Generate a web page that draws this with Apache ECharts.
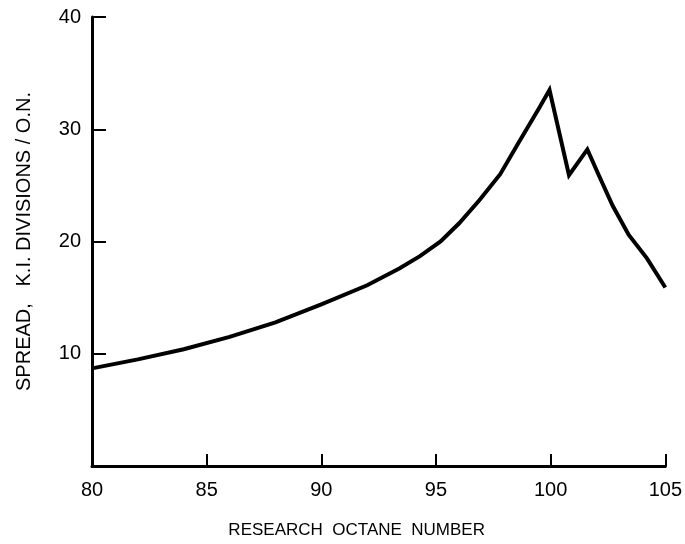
<!DOCTYPE html>
<html>
<head>
<meta charset="utf-8">
<script src="https://cdn.jsdelivr.net/npm/echarts@6/dist/echarts.min.js"></script>
<style>html,body{margin:0;padding:0;background:#fff;}#c{width:685px;height:544px;}</style>
</head>
<body>
<div id="c"></div>
<script>
const octane = [80, 82, 84, 86, 88, 90, 92, 93.4, 94.3, 95.2, 96.0, 96.9, 97.8, 98.6, 99.5, 99.95, 100.8, 101.6, 102.1, 102.7, 103.4, 104.2, 105];
const spread = [8.7, 9.5, 10.4, 11.5, 12.8, 14.4, 16.1, 17.6, 18.7, 20.0, 21.6, 23.7, 26.0, 28.8, 31.9, 33.5, 25.9, 28.2, 25.9, 23.2, 20.6, 18.5, 15.9];
const xTicks = [80, 85, 90, 95, 100, 105];
const yTicks = [10, 20, 30, 40];
const xName = 'RESEARCH  OCTANE  NUMBER';
const yName = 'SPREAD,   K.I. DIVISIONS / O.N.';

const chart = echarts.init(document.getElementById('c'));
const font = 'Liberation Sans, Arial, sans-serif';
chart.setOption({
  animation: false,
  backgroundColor: '#fff',
  grid: { left: 92, right: 19, top: 17, bottom: 78, containLabel: false },
  xAxis: {
    type: 'value', min: xTicks[0], max: xTicks[xTicks.length - 1], interval: 5,
    name: xName, nameLocation: 'middle', nameGap: 56,
    nameTextStyle: { fontFamily: font, fontSize: 17, color: '#000', padding: [0, 44, 0, 0] },
    axisLine: { show: true, lineStyle: { color: '#000', width: 3 } },
    axisTick: { show: true, inside: true, length: 12, lineStyle: { color: '#000', width: 2 } },
    axisLabel: { fontFamily: font, fontSize: 20, color: '#000', margin: 14 },
    splitLine: { show: false }
  },
  yAxis: {
    type: 'value', min: 0, max: 40, interval: 10,
    name: yName, nameLocation: 'middle', nameGap: 58,
    nameTextStyle: { fontFamily: font, fontSize: 20, color: '#000' },
    axisLine: { show: true, lineStyle: { color: '#000', width: 3 } },
    axisTick: { show: true, inside: true, length: 14, lineStyle: { color: '#000', width: 2 } },
    axisLabel: { fontFamily: font, fontSize: 20, color: '#000', margin: 11,
      formatter: v => (yTicks.indexOf(v) >= 0 ? String(v) : '') },
    splitLine: { show: false }
  },
  series: [{
    type: 'line',
    data: octane.map((x, i) => [x, spread[i]]),
    showSymbol: false,
    smooth: false,
    lineStyle: { color: '#000', width: 4, join: 'miter' }
  }]
});
</script>
</body>
</html>
